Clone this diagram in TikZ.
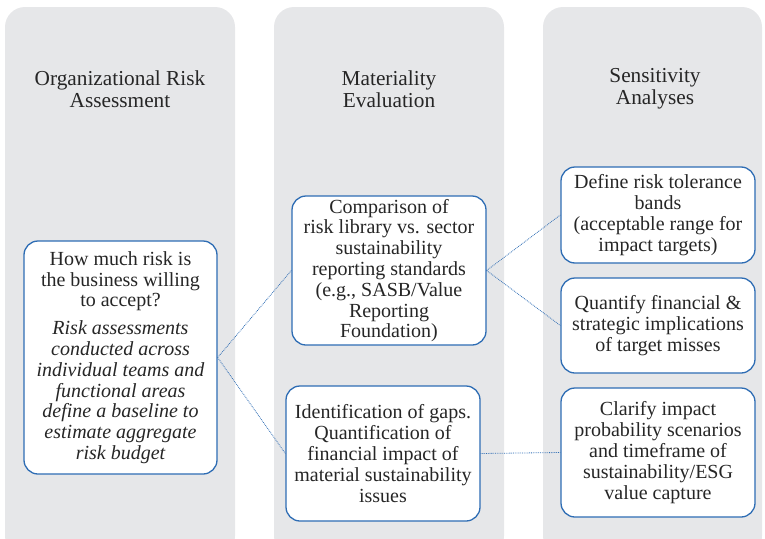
\documentclass[tikz,border=0pt]{standalone}
\usepackage{fontspec}
\setmainfont{Liberation Serif}
\usepackage{tikz}
\usetikzlibrary{positioning}
\definecolor{lanegray}{HTML}{E6E7E9}
\definecolor{edgeblue}{HTML}{2E6DB4}
\tikzstyle{every lane} = [fill=lanegray, draw=none, rounded corners=20pt]
\tikzstyle{lane} = [every lane]
\tikzstyle{link} = [draw=edgeblue, densely dotted, line width=0.8pt]

\begin{document}
\begin{tikzpicture}[
		x=1pt, y=-1pt,
		every node/.style = {font=\fontsize{20}{20.8}\selectfont, align=center},
		lanetitle/.style = {font=\fontsize{21.3}{22}\selectfont, color=black!85},
		taskbox/.style = {draw=edgeblue, fill=white, line width=1.3pt,
			rounded corners=14pt, inner sep=0pt, text=black!85}
	]
	\useasboundingbox (0,0) rectangle (765,538);
	% lanes
	\path[lane] (5,7) rectangle (235,556);
	\path[lane] (274,7) rectangle (504,556);
	\path[lane] (543,7) rectangle (762,556);
	\node[lanetitle] (orgtitle) at (120,89) {Organizational Risk\\Assessment};
	\node[lanetitle] (mattitle) at (389,89) {Materiality\\Evaluation};
	\node[lanetitle] (sentitle) at (655,89) {Sensitivity\\Analyses};
	% boxes
	\node[taskbox, minimum width=193, minimum height=233] (appetite) at (120.5,357.5)
		{How much risk is\\the business willing\\to accept?\\[7pt]
		\itshape Risk assessments\\\itshape conducted across\\\itshape individual teams and\\
		\itshape functional areas\\\itshape define a baseline to\\\itshape estimate aggregate\\
		\itshape risk budget};
	\node[taskbox, minimum width=194, minimum height=149] (compare) at (389,270.5)
		{Comparison of\\risk library vs. sector\\sustainability\\reporting standards\\
		(e.g., SASB/Value\\Reporting\\Foundation)};
	\node[taskbox, minimum width=194, minimum height=135] (gaps) at (383,453.5)
		{Identification of gaps.\\Quantification of\\financial impact of\\
		material sustainability\\issues};
	\node[taskbox, minimum width=194, minimum height=96] (bands) at (658,215)
		{Define risk tolerance\\bands\\(acceptable range for\\impact targets)};
	\node[taskbox, minimum width=194, minimum height=95] (misses) at (658,325.5)
		{Quantify financial \&\\strategic implications\\of target misses};
	\node[taskbox, minimum width=194, minimum height=129] (capture) at (658,452.5)
		{Clarify impact\\probability scenarios\\and timeframe of\\
		sustainability/ESG\\value capture};
	% links
	\path[link] (appetite.east) -- (compare.west);
	\path[link] (appetite.east) -- (gaps.west);
	\path[link] (compare.east) -- (bands.west);
	\path[link] (compare.east) -- (misses.west);
	\path[link] (gaps.east) -- (capture.west);
\end{tikzpicture}
\end{document}
